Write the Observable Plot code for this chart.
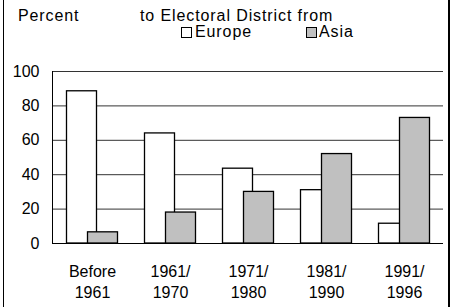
<!DOCTYPE html>
<html>
<head>
<meta charset="utf-8">
<script src="https://cdn.jsdelivr.net/npm/d3@7"></script>
<script src="https://cdn.jsdelivr.net/npm/@observablehq/plot@0.6"></script>
<style>
  html, body { margin: 0; padding: 0; background: #fff; }
  #wrap { position: relative; width: 452px; height: 307px; overflow: hidden; font-family: "Liberation Sans", Arial, sans-serif; }
  #border { position: absolute; left: 3px; top: 0; width: 444px; height: 307px; border-left: 1px solid #000; border-right: 2px solid #000; pointer-events: none; }
  #header { position: relative; height: 50px; font-size: 16px; letter-spacing: 0.9px; color: #000; }
  #header span { position: absolute; white-space: nowrap; line-height: 1; }
  .sw { position: absolute; width: 9px; height: 9px; border: 1.3px solid #000; }
  #chart svg { display: block; }
</style>
</head>
<body>
<div id="wrap">
  <div id="header">
    <span style="left:18px; top:8px;">Percent</span>
    <span style="left:140px; top:8px;">to Electoral District from</span>
    <div class="sw" style="left:181px; top:27px; background:#fff;"></div>
    <span style="left:195px; top:24px;">Europe</span>
    <div class="sw" style="left:306px; top:27px; background:#c0c0c0;"></div>
    <span style="left:319px; top:24px;">Asia</span>
  </div>
  <div id="chart"></div>
  <div id="border"></div>
</div>
<script>
const periods = ["Before\n1961", "1961/\n1970", "1971/\n1980", "1981/\n1990", "1991/\n1996"];
const europe = [88.5, 64, 43.5, 31, 11.5];
const asia = [6.5, 18, 30, 52, 73];
const yTicks = [0, 20, 40, 60, 80, 100];
const gridTicks = [20, 40, 60, 80, 100];

const europeData = periods.map((p, i) => ({period: p, value: europe[i]}));
const asiaData = periods.map((p, i) => ({period: p, value: asia[i]}));

const chart = Plot.plot({
  width: 452,
  height: 257,
  marginLeft: 52,
  marginRight: 9,
  marginTop: 21,
  marginBottom: 64,
  style: {fontFamily: "'Liberation Sans', Arial, sans-serif", fontSize: "16px", color: "#000", background: "transparent"},
  x: {type: "band", domain: periods, paddingInner: 0.6164, paddingOuter: 0.3082, label: null},
  y: {domain: [0, 100], label: null},
  marks: [
    Plot.ruleY(gridTicks, {stroke: "#333", strokeWidth: 1}),
    Plot.barY(europeData, {x: "period", y: "value", dx: -10.5, fill: "#fff", stroke: "#000", strokeWidth: 1.3}),
    Plot.barY(asiaData, {x: "period", y: "value", dx: 10.5, fill: "#c0c0c0", stroke: "#000", strokeWidth: 1.3}),
    Plot.ruleY([0], {stroke: "#000", strokeWidth: 1}),
    Plot.frame({anchor: "left", stroke: "#000", strokeWidth: 1}),
    Plot.axisY({ticks: yTicks, tickSize: 0, tickPadding: 13, label: null, fontSize: 16}),
    Plot.axisX({tickSize: 0, tickPadding: 19, label: null, fontSize: 16, lineHeight: 1.3})
  ]
});
document.getElementById("chart").appendChild(chart);
</script>
</body>
</html>
